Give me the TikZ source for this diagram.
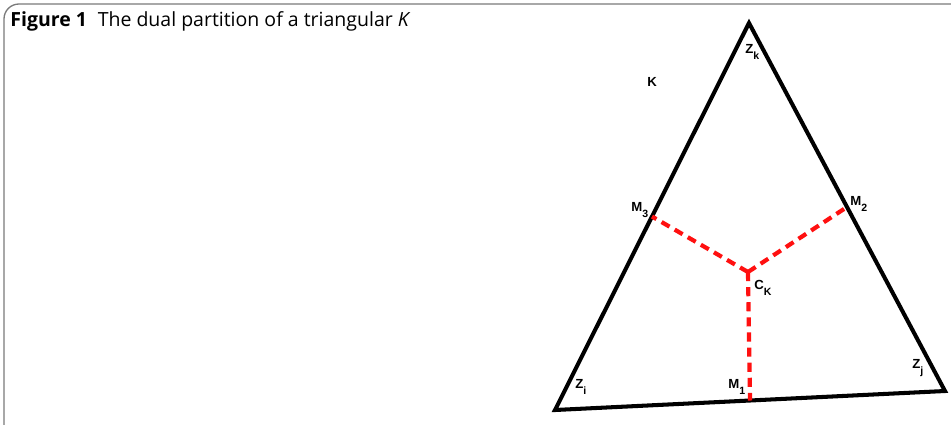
\documentclass[tikz,border=0pt]{standalone}
\usepackage{fontspec}
\setmainfont{Open Sans}
\newfontfamily\ptfont{Liberation Sans}
\usepackage{xcolor}
\usetikzlibrary{positioning}
\definecolor{framegray}{HTML}{7A7A7A}
\definecolor{dualred}{HTML}{FF1010}
\newcommand{\ptsub}[1]{\raisebox{-3.6pt}{\fontsize{6}{7}\selectfont #1}}

\begin{document}
\begin{tikzpicture}[x=0.02cm, y=-0.02cm,
    edge/.style={line width=2.3pt, line join=miter},
    dualline/.style={draw=dualred, line width=2.4pt, dash pattern=on 5.2pt off 3.4pt},
    ptlabel/.style={font=\ptfont\bfseries\fontsize{7.5}{9}\selectfont, inner sep=0pt, anchor=base west}]
  \useasboundingbox (0,0) rectangle (951,424);
  \clip (0,0) rectangle (951,424);
  % frame and caption
  \draw[framegray, line width=0.75pt, rounded corners=8.5pt] (4,460) -- (4,4) -- (990,4);
  \node[anchor=base west, inner sep=0pt, font=\fontsize{11.1}{13}\selectfont] (caption) at (10,26)
    {\textbf{Figure 1}\hspace{0.55em}The dual partition of a triangular \textit{K}};
  % vertices, midpoints and centre
  \coordinate (zi) at (555,410);
  \coordinate (zj) at (945,391);
  \coordinate (zk) at (749,23);
  \coordinate (m1) at (750,400.5);
  \coordinate (m2) at (847,207);
  \coordinate (m3) at (652,216.5);
  \coordinate (ck) at (748,272);
  \draw[edge] (zi) -- (zj) -- (zk) -- cycle;
  \draw[dualline] (ck) -- (m1);
  \draw[dualline] (ck) -- (m2);
  \draw[dualline] (ck) -- (m3);
  % labels
  \node[ptlabel] (lzk) at (745,53) {Z\ptsub{k}};
  \node[ptlabel] (lk) at (647,86) {K};
  \node[ptlabel] (lm3) at (631,211) {M\ptsub{3}};
  \node[ptlabel] (lm2) at (850,205) {M\ptsub{2}};
  \node[ptlabel] (lck) at (754,289) {C\ptsub{K}};
  \node[ptlabel] (lm1) at (728,388) {M\ptsub{1}};
  \node[ptlabel] (lzi) at (575,388) {Z\ptsub{i}};
  \node[ptlabel] (lzj) at (912,368) {Z\ptsub{j}};
\end{tikzpicture}
\end{document}
